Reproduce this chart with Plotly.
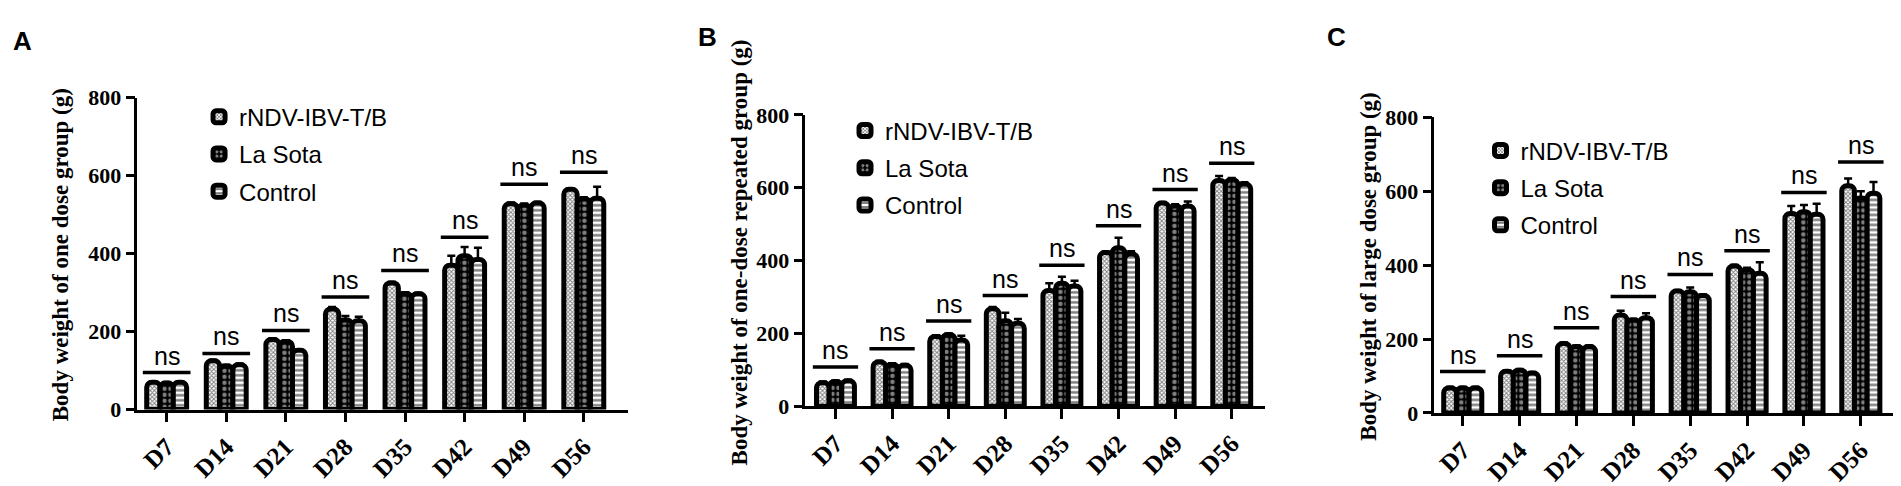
import plotly.graph_objects as go

days = ["D7", "D14", "D21", "D28", "D35", "D42", "D49", "D56"]
groups = ["rNDV-IBV-T/B", "La Sota", "Control"]

# panel A - one dose group
a_rndv = [70, 125, 180, 258, 325, 370, 528, 565]
a_rndv_err = [3, 3, 3, 5, 3, 25, 3, 3]
a_lasota = [68, 112, 175, 230, 298, 395, 524, 540]
a_lasota_err = [3, 3, 3, 10, 3, 22, 5, 5]
a_control = [70, 115, 152, 228, 297, 385, 530, 542]
a_control_err = [3, 3, 3, 10, 3, 30, 3, 30]
a_ns = [95, 144, 203, 289, 357, 442, 578, 609]

# panel B - one-dose repeated group
b_rndv = [65, 122, 192, 268, 318, 422, 558, 620]
b_rndv_err = [3, 3, 3, 5, 20, 3, 3, 12]
b_lasota = [68, 115, 197, 235, 338, 435, 550, 622]
b_lasota_err = [3, 3, 3, 22, 18, 28, 5, 5]
b_control = [70, 113, 182, 228, 330, 418, 550, 610]
b_control_err = [3, 3, 12, 12, 15, 8, 12, 5]
b_ns = [108, 158, 234, 304, 387, 496, 595, 667]

# panel C - large dose group
c_rndv = [68, 113, 188, 265, 330, 398, 540, 615]
c_rndv_err = [3, 3, 3, 12, 3, 3, 20, 20]
c_lasota = [68, 116, 180, 252, 328, 388, 545, 582]
c_lasota_err = [3, 3, 3, 3, 12, 5, 18, 18]
c_control = [68, 108, 180, 258, 318, 378, 538, 595]
c_control_err = [3, 3, 3, 12, 3, 30, 28, 30]
c_ns = [112, 155, 231, 315, 375, 439, 597, 679]

patterns = [
    dict(shape="x", fgcolor="black", bgcolor="white", size=3, solidity=0.55),
    dict(shape=".", fgcolor="white", bgcolor="black", size=6, solidity=0.45),
    dict(shape="-", fgcolor="black", bgcolor="white", size=5, solidity=0.5),
]

panels = [
    dict(label="A", title="Body weight of one dose group (g)",
         series=[(a_rndv, a_rndv_err), (a_lasota, a_lasota_err), (a_control, a_control_err)], ns=a_ns,
         xdom=[0.0681, 0.3264], ydom=[0.1549, 0.8313], xr=[-0.49, 7.75],
         lab=(14, 22), tit=(52, 248), leg=(0.1005, 0.838)),
    dict(label="B", title="Body weight of one-dose repeated group (g)",
         series=[(b_rndv, b_rndv_err), (b_lasota, b_lasota_err), (b_control, b_control_err)], ns=b_ns,
         xdom=[0.4195, 0.6610], ydom=[0.1619, 0.7942], xr=[-0.53, 7.58],
         lab=(699, 18), tit=(731, 245), leg=(0.4403, 0.808)),
    dict(label="C", title="Body weight of large dose group (g)",
         series=[(c_rndv, c_rndv_err), (c_lasota, c_lasota_err), (c_control, c_control_err)], ns=c_ns,
         xdom=[0.7503, 0.9929], ydom=[0.1475, 0.7887], xr=[-0.50, 7.61],
         lab=(1328, 18), tit=(1361, 260), leg=(0.7746, 0.765)),
]

W, H = 1901, 486
xs = list(range(len(days)))
fig = go.Figure()
layout = dict(width=W, height=H, margin=dict(l=0, r=0, t=0, b=0),
              paper_bgcolor="white", plot_bgcolor="white", barmode="group",
              bargap=0.33, bargroupgap=0.0, showlegend=True)
annotations = []
shapes = []

for p_i, p in enumerate(panels):
    n = "" if p_i == 0 else str(p_i + 1)
    leg = "legend" + n
    for g_i, (vals, errs) in enumerate(p["series"]):
        fig.add_trace(go.Bar(
            x=xs, y=vals, name=groups[g_i], xaxis="x" + n, yaxis="y" + n,
            legend=leg, legendgroup=leg + groups[g_i],
            marker=dict(color="white", pattern=patterns[g_i], cornerradius=5,
                        line=dict(color="black", width=5)),
            error_y=dict(type="data", array=errs, arrayminus=[0] * len(errs), symmetric=False,
                         color="black", thickness=2.5, width=4),
        ))
    layout["xaxis" + n] = dict(
        domain=p["xdom"], anchor="y" + n, range=p["xr"], tickmode="array", tickvals=xs, ticktext=days,
        tickangle=-45, ticks="outside", ticklen=10, tickwidth=2.5, tickcolor="black",
        showline=True, linecolor="black", linewidth=2.5, showgrid=False, zeroline=False,
        tickfont=dict(family="Liberation Serif", size=25, color="black", weight="bold"))
    layout["yaxis" + n] = dict(
        domain=p["ydom"], anchor="x" + n, range=[0, 800], tickvals=[0, 200, 400, 600, 800],
        ticks="outside", ticklen=9, tickwidth=2.5, tickcolor="black",
        showline=True, linecolor="black", linewidth=2.5, showgrid=False, zeroline=False,
        tickfont=dict(family="Liberation Serif", size=22, color="black", weight="bold"))
    layout[leg] = dict(x=p["leg"][0], y=p["leg"][1], xanchor="left", yanchor="top",
                       bgcolor="rgba(0,0,0,0)", traceorder="grouped", tracegroupgap=3,
                       font=dict(family="Liberation Sans", size=24, color="black"))
    # panel letter
    annotations.append(dict(text="<b>" + p["label"] + "</b>", xref="paper", yref="paper",
                            x=p["lab"][0] / W, y=1 - p["lab"][1] / H, xanchor="center", yanchor="middle",
                            showarrow=False, font=dict(family="Liberation Sans", size=26, color="black")))
    # y title
    annotations.append(dict(text="<b>" + p["title"] + "</b>", xref="paper", yref="paper",
                            x=p["tit"][0] / W, y=1 - p["tit"][1] / H, xanchor="center", yanchor="middle",
                            showarrow=False, textangle=-90,
                            font=dict(family="Liberation Serif", size=23, color="black")))
    # ns lines and labels
    for i, h in enumerate(p["ns"]):
        shapes.append(dict(type="line", xref="x" + n, yref="y" + n, x0=i - 0.4, x1=i + 0.4,
                           y0=h, y1=h, line=dict(color="black", width=3.5)))
        annotations.append(dict(text="ns", xref="x" + n, yref="y" + n, x=i, y=h, yanchor="bottom",
                                yshift=1, showarrow=False,
                                font=dict(family="Liberation Sans", size=25, color="black")))

layout["annotations"] = annotations
layout["shapes"] = shapes
fig.update_layout(**layout)
fig.write_html("out.html")
